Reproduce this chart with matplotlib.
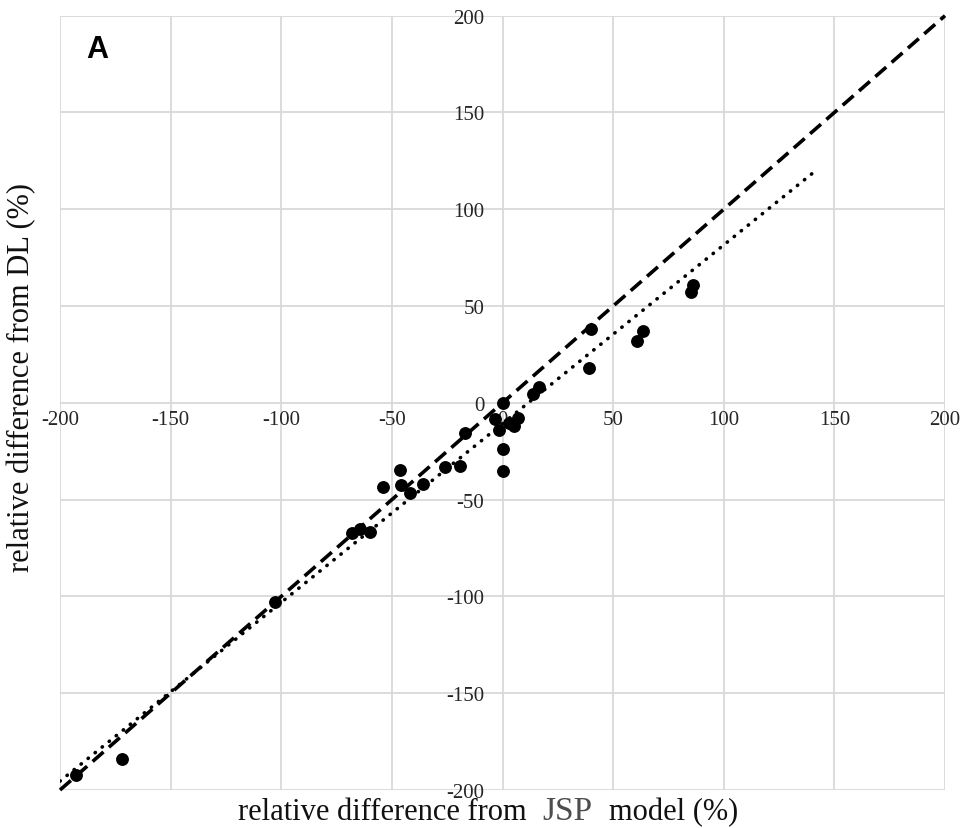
import matplotlib
matplotlib.use("Agg")
import matplotlib.pyplot as plt

plt.rcParams['axes.unicode_minus'] = False

# data
jsp = [-192.6, -172, -103, -67.9, -64.5, -60, -54, -46.4, -46, -41.8, -35.8,
       -26.2, -19, -17, -3.6, -1.7, 0, 0, 0, 2.9, 5.1, 7, 14, 16.5,
       40, 39, 60.9, 63.5, 85.1, 86.2]
dl = [-192.4, -184, -102.8, -67.4, -65.2, -66.9, -43.6, -34.5, -42.4, -46.6, -41.9,
      -33.3, -32.4, -15.5, -8.6, -14, 0, -24, -35, -10.5, -12.2, -8, 4.7, 8.1,
      38.3, 18.1, 32.2, 36.9, 57.3, 61]
identity_x = [-200, 200]
identity_y = [-200, 200]
trend_x = [-200, 140]
trend_y = [-195.4, 118.5]
ticks = [-200, -150, -100, -50, 0, 50, 100, 150, 200]
xlabel_parts = ["relative difference from", "JSP", "model (%)"]
ylabel = "relative difference from DL (%)"

serif = ["Liberation Serif", "DejaVu Serif"]

fig = plt.figure(figsize=(9.65, 8.29), dpi=100)
ax = fig.add_axes([60/965, 1-791/829, 885/965, (791-16.7)/829])
ax.set_xlim(-200, 200)
ax.set_ylim(-200, 200)
ax.set_xticks(ticks)
ax.set_yticks(ticks)
ax.grid(True, color="#d9d9d9", linewidth=1.3, zorder=0)
ax.set_axisbelow(True)
for s in ax.spines.values():
    s.set_visible(False)
ax.spines['left'].set_position(('data', 0))
ax.spines['bottom'].set_position(('data', 0))
ax.tick_params(axis='both', length=0)
ax.tick_params(axis='x', pad=5)
ax.tick_params(axis='y', pad=13)
for lab in ax.get_xticklabels() + ax.get_yticklabels():
    lab.set_fontfamily(serif)
    lab.set_fontsize(15)
    lab.set_color("#262626")

ax.plot(identity_x, identity_y, color="black", linestyle=(0, (4, 2)), linewidth=2.6, zorder=3, clip_on=False)
ax.plot(trend_x, trend_y, color="black", linestyle=(0, (0.1, 2.4)), dash_capstyle='round', linewidth=2.6, zorder=3)
ax.scatter(jsp, dl, s=68, color="black", zorder=4, clip_on=False)

fig.text(97/965, 1-50/829, "A", fontsize=22, fontweight="bold", family="Liberation Sans", ha="center", va="center")

# x label in three parts (JSP larger and grey, as in the reference)
fig.canvas.draw()
renderer = fig.canvas.get_renderer()
sizes = [22, 24, 22]
colors = ["#111111", "#4d4d4d", "#111111"]
gap = 16
texts = []
for part, fs, c in zip(xlabel_parts, sizes, colors):
    t = fig.text(0, 0, part, fontsize=fs, family=serif, ha="left", va="baseline", color=c)
    texts.append(t)
widths = [t.get_window_extent(renderer).width for t in texts]
total = sum(widths) + gap * (len(widths) - 1)
x0 = 488 - total / 2
base = 1 - 820/829
for t, w in zip(texts, widths):
    t.set_position((x0 / 965, base))
    x0 += w + gap

fig.text(22/965, 1-378/829, ylabel, fontsize=22, family=serif,
         ha="center", va="center", rotation=90, color="#111111")

fig.savefig("out.png", dpi=100, facecolor="white")
